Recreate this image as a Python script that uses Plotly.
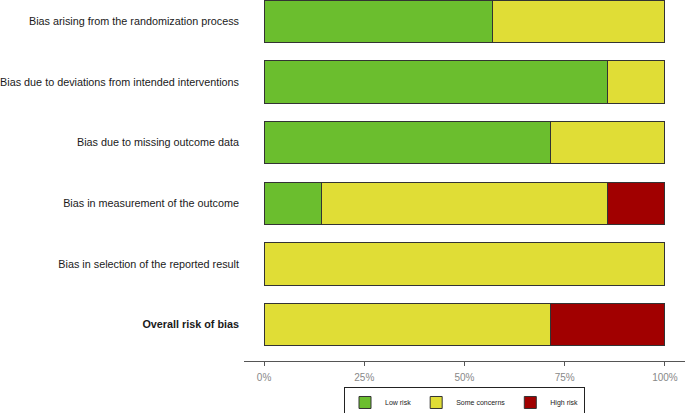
import plotly.graph_objects as go

domains = [
    "Bias arising from the randomization process",
    "Bias due to deviations from intended interventions",
    "Bias due to missing outcome data",
    "Bias in measurement of the outcome",
    "Bias in selection of the reported result",
    "<b>Overall risk of bias</b>",
]
low_risk = [57.1, 85.7, 71.4, 14.3, 0, 0]
some_concerns = [42.9, 14.3, 28.6, 71.4, 100, 71.4]
high_risk = [0, 0, 0, 14.3, 0, 28.6]
tick_vals = [0, 25, 50, 75, 100]
tick_text = ["0%", "25%", "50%", "75%", "100%"]

series = [
    ("Low risk", low_risk, "#6BBE2E"),
    ("Some concerns", some_concerns, "#E0DD36"),
    ("High risk", high_risk, "#A10000"),
]

ypos = list(range(len(domains)))
fig = go.Figure()
for name, vals, col in series:
    fig.add_trace(go.Bar(
        y=ypos,
        x=[v if v > 0 else None for v in vals],
        name=name,
        orientation="h",
        width=0.7,
        marker=dict(color=col, line=dict(color="#333333", width=1)),
        hoverinfo="x+name",
    ))

fig.update_layout(
    barmode="stack",
    width=685, height=413,
    margin=dict(l=244, r=0, t=0, b=52, autoexpand=False),
    paper_bgcolor="white", plot_bgcolor="white",
    font=dict(family="Liberation Sans, Arial, sans-serif", color="#1a1a1a"),
    xaxis=dict(
        range=[-5, 105], tickvals=tick_vals, ticktext=tick_text,
        showgrid=False, zeroline=False, showline=True, linecolor="#555555", linewidth=1,
        ticks="outside", ticklen=4, tickcolor="#555555", ticklabelstandoff=3,
        tickfont=dict(size=10, color="#888888"), automargin=False,
    ),
    yaxis=dict(
        range=[5.6, -0.35], tickvals=ypos, ticktext=domains,
        showgrid=False, zeroline=False, showline=False, ticks="",
        ticklabelstandoff=4,
        tickfont=dict(size=10.8, color="#1a1a1a"), automargin=False,
    ),
    legend=dict(
        orientation="h", x=0.5, xanchor="center", y=-0.072, yanchor="top",
        bordercolor="#222222", borderwidth=1, font=dict(size=7, color="#222222"),
        traceorder="normal", itemwidth=30,
    ),
    bargap=0.3,
)

fig.write_html(
    "out.html",
    config={"displayModeBar": False},
    post_script="document.body.style.margin='0';document.body.style.padding='0';",
)
